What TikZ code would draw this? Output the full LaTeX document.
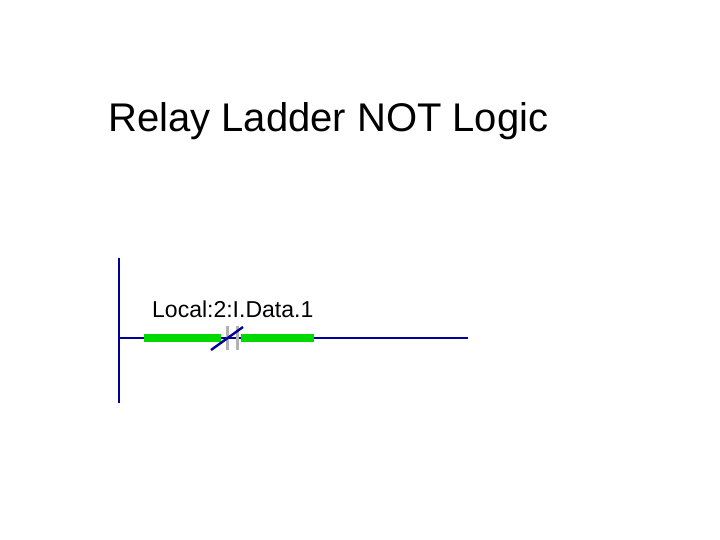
\documentclass[tikz,border=0pt]{standalone}
\usepackage{fontspec}
\setmainfont{Liberation Sans}
\begin{document}
\begin{tikzpicture}[x=1pt,y=-1pt,
    rail/.style={draw=blue!60!black,line width=1.6pt},
    powered/.style={draw=green!85!black,line width=8pt},
    plate/.style={draw=gray!60,line width=3pt}]
  \useasboundingbox (0,0) rectangle (720,540);
  \node[anchor=base west,inner sep=0pt,font=\fontsize{40}{42}\selectfont] (title) at (108,132) {Relay Ladder NOT Logic};
  % rail and rung
  \coordinate (railtop) at (119,258);
  \coordinate (railbot) at (119,403);
  \coordinate (rungL) at (119,338);
  \coordinate (rungR) at (468,338);
  \draw[rail] (railtop) -- (railbot);
  \draw[rail] (rungL) -- (rungR);
  % contact
  \coordinate (inL) at (144,338);
  \coordinate (inR) at (221,338);
  \coordinate (outL) at (241,338);
  \coordinate (outR) at (314,338);
  \draw[powered] (inL) -- (inR);
  \draw[powered] (outL) -- (outR);
  \draw[rail] (inR) -- (outL);
  \coordinate (pa) at (227.5,326);
  \coordinate (pb) at (237.5,326);
  \draw[plate] (pa) -- ++(0,24);
  \draw[plate] (pb) -- ++(0,24);
  \coordinate (slashA) at (211,350);
  \coordinate (slashB) at (243,327);
  \draw[rail,line width=2.4pt] (slashA) -- (slashB);
  \node[anchor=base west,inner sep=0pt,font=\fontsize{23}{25}\selectfont] (tag) at (152,317) {Local:2:I.Data.1};
\end{tikzpicture}
\end{document}
